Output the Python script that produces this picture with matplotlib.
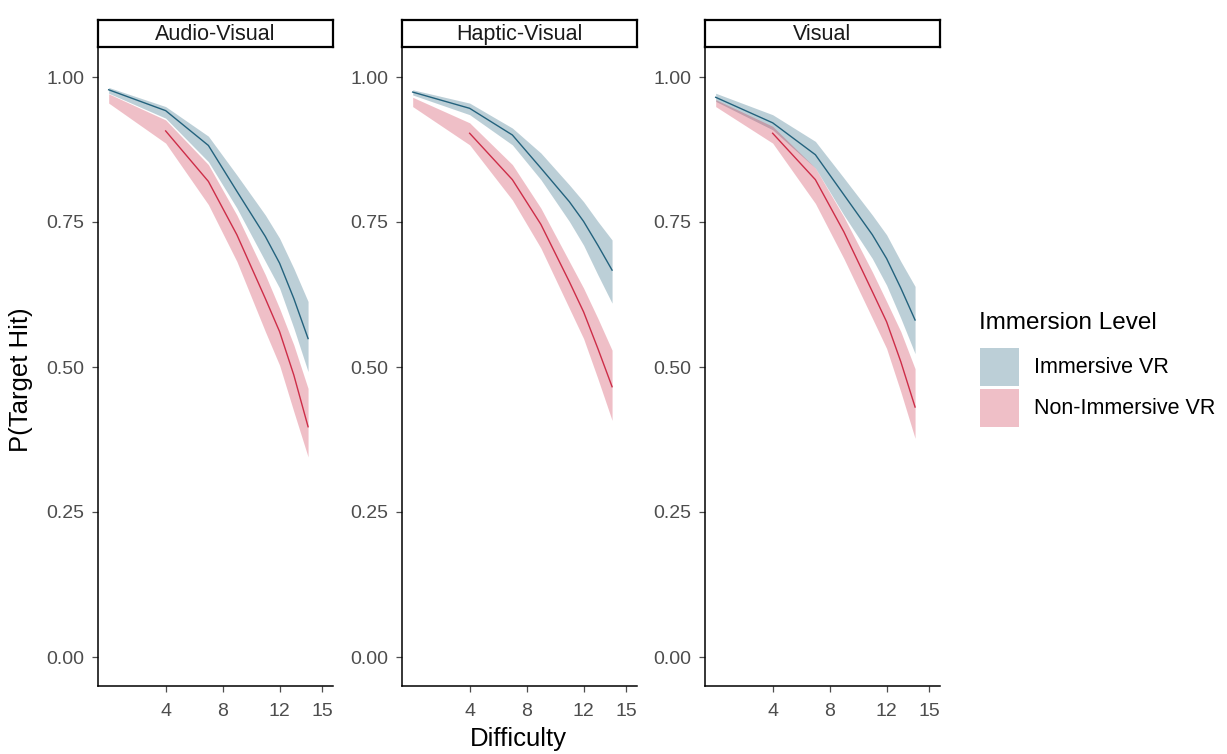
import numpy as np
import matplotlib.pyplot as plt

plt.rcParams['font.family'] = ['Liberation Sans', 'DejaVu Sans']

# --- data --- #
panels = ["Audio-Visual", "Haptic-Visual", "Visual"]
difficulty = [0, 4, 7, 9, 11, 12, 13, 14]

# Immersive VR: fitted line + ribbon
imm_fit = {
    "Audio-Visual":  [0.978, 0.942, 0.882, 0.803, 0.725, 0.679, 0.618, 0.549],
    "Haptic-Visual": [0.974, 0.946, 0.900, 0.843, 0.785, 0.751, 0.710, 0.667],
    "Visual":        [0.965, 0.921, 0.866, 0.797, 0.728, 0.687, 0.636, 0.581],
}
imm_hi = {
    "Audio-Visual":  [0.982, 0.949, 0.898, 0.831, 0.762, 0.722, 0.670, 0.613],
    "Haptic-Visual": [0.978, 0.955, 0.912, 0.869, 0.814, 0.785, 0.751, 0.719],
    "Visual":        [0.972, 0.935, 0.889, 0.826, 0.762, 0.728, 0.682, 0.639],
}
imm_lo = {
    "Audio-Visual":  [0.972, 0.929, 0.854, 0.774, 0.682, 0.636, 0.567, 0.492],
    "Haptic-Visual": [0.969, 0.935, 0.883, 0.823, 0.751, 0.710, 0.659, 0.610],
    "Visual":        [0.958, 0.909, 0.843, 0.762, 0.687, 0.641, 0.584, 0.523],
}

# Non-Immersive VR: line only drawn from difficulty 4
non_fit = {
    "Audio-Visual":  [np.nan, 0.907, 0.820, 0.728, 0.618, 0.561, 0.486, 0.397],
    "Haptic-Visual": [np.nan, 0.903, 0.823, 0.746, 0.647, 0.595, 0.532, 0.466],
    "Visual":        [np.nan, 0.903, 0.823, 0.733, 0.630, 0.578, 0.509, 0.431],
}
non_hi = {
    "Audio-Visual":  [0.971, 0.926, 0.849, 0.762, 0.659, 0.601, 0.538, 0.463],
    "Haptic-Visual": [0.965, 0.921, 0.849, 0.774, 0.682, 0.636, 0.584, 0.529],
    "Visual":        [0.961, 0.915, 0.843, 0.759, 0.664, 0.613, 0.561, 0.497],
}
non_lo = {
    "Audio-Visual":  [0.955, 0.886, 0.780, 0.682, 0.561, 0.503, 0.423, 0.345],
    "Haptic-Visual": [0.949, 0.883, 0.788, 0.705, 0.601, 0.549, 0.480, 0.408],
    "Visual":        [0.949, 0.886, 0.782, 0.687, 0.584, 0.532, 0.457, 0.377],
}

x_ticks = [4, 8, 12, 15]
y_ticks = [0.0, 0.25, 0.5, 0.75, 1.0]
y_tick_labels = ["0.00", "0.25", "0.50", "0.75", "1.00"]

imm_col = "#23627d"
non_col = "#cd2d48"
grey = "#4d4d4d"

W, H = 1227, 754
fig = plt.figure(figsize=(W / 100, H / 100), dpi=100)


def px_axes(left, top, width, height):
    return fig.add_axes([left / W, 1 - (top + height) / H, width / W, height / H])


lefts = [98, 402, 705]
for name, left in zip(panels, lefts):
    ax = px_axes(left, 48, 235, 638)
    ax.fill_between(difficulty, imm_lo[name], imm_hi[name], color=imm_col,
                    alpha=0.3, linewidth=0)
    ax.fill_between(difficulty, non_lo[name], non_hi[name], color=non_col,
                    alpha=0.3, linewidth=0)
    ax.plot(difficulty, imm_fit[name], color=imm_col, lw=1.0)
    ax.plot(difficulty, non_fit[name], color=non_col, lw=1.0)

    ax.set_xlim(-0.75, 15.75)
    ax.set_ylim(-0.05, 1.05)
    ax.set_xticks(x_ticks)
    ax.set_yticks(y_ticks)
    ax.set_yticklabels(y_tick_labels)
    ax.tick_params(colors=grey, labelsize=14, length=4, width=0.9)
    ax.tick_params(axis='x', pad=8)
    ax.tick_params(axis='y', pad=6)
    for s in ["top", "right"]:
        ax.spines[s].set_visible(False)
    for s in ["left", "bottom"]:
        ax.spines[s].set_color("black")
        ax.spines[s].set_linewidth(1.1)

    # facet strip
    st = px_axes(left, 20, 235, 27)
    st.set_xticks([])
    st.set_yticks([])
    for s in st.spines.values():
        s.set_color("black")
        s.set_linewidth(1.6)
    st.text(0.5, 0.46, name, ha="center", va="center", fontsize=15.5,
            color="#1a1a1a", transform=st.transAxes)

fig.text(21 / W, 1 - 380 / H, "P(Target Hit)", rotation=90, ha="center",
         va="center", fontsize=18.5)
fig.text(518 / W, 1 - 739 / H, "Difficulty", ha="center", va="center",
         fontsize=18.5)

# legend
fig.text(979 / W, 1 - 323 / H, "Immersion Level", ha="left", va="center",
         fontsize=17.5)
legend_labels = ["Immersive VR", "Non-Immersive VR"]
legend_cols = [imm_col, non_col]
for i, (lab, c) in enumerate(zip(legend_labels, legend_cols)):
    top = 348 + i * 41
    key = px_axes(980, top, 39, 38)
    key.add_patch(plt.Rectangle((0, 0), 1, 1, color=c, alpha=0.3, lw=0))
    key.set_xlim(0, 1)
    key.set_ylim(0, 1)
    key.axis("off")
    fig.text(1034 / W, 1 - (top + 20) / H, lab, ha="left", va="center",
             fontsize=15.5)

fig.savefig("out.png", dpi=100)
